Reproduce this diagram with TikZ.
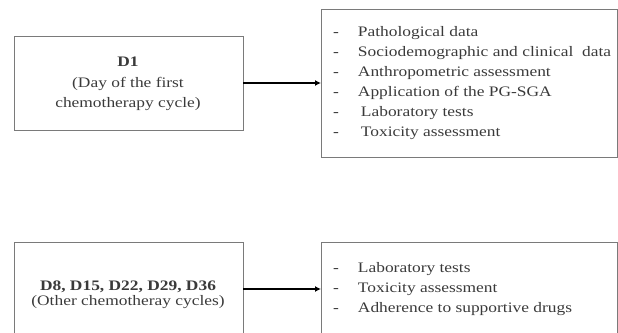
\documentclass[tikz,border=0pt]{standalone}
\usepackage{fontspec}
\setmainfont[FakeStretch=1.2]{Liberation Serif}
\usetikzlibrary{arrows.meta}
\definecolor{txt}{HTML}{3A3A3A}
\definecolor{bord}{HTML}{7A7A7A}
\tikzset{
  box/.style={draw=bord, line width=1pt, minimum width=#1, inner sep=0pt, outer sep=0pt},
  lbl/.style={text=txt, font=\fontsize{14.5}{20.5}\selectfont, align=center, inner sep=0pt},
  lst/.style={text=txt, font=\fontsize{14.5}{20}\selectfont, anchor=north west, inner sep=0pt},
  conn/.style={-{Latex[length=6pt,width=6pt]}, line width=1.8pt, black}
}
\begin{document}
\begin{tikzpicture}[x=1pt,y=-1pt]
\useasboundingbox (0,0) rectangle (618,332);
\begin{scope}
\clip (0,0) rectangle (618,332);
% top row
\node[box=229pt, minimum height=94pt, anchor=north west] (b1) at (14,36) {};
\node[lbl] (t1) at (128,84) {\textbf{D1}\\(Day of the first\\chemotherapy cycle)};
\node[box=296pt, minimum height=148pt, anchor=north west] (b2) at (321,9) {};
\node[lst] (l2) at (333,22) {\begin{tabular}{@{}l@{\hspace{19pt}}l@{}}
-& Pathological data\\
-& Sociodemographic and clinical~ data\\
-& Anthropometric assessment\\
-& Application of the PG-SGA\\
-& \hspace{3pt}Laboratory tests\\
-& \hspace{3pt}Toxicity assessment
\end{tabular}};
\draw[conn] (b1.east) -- (b2.west);
% bottom row
\node[box=229pt, minimum height=100pt, anchor=north west] (b3) at (14,242) {};
\node[lbl, font=\fontsize{14.5}{15}\selectfont] (t3) at (128,295) {\textbf{D8, D15, D22, D29, D36}\\(Other chemotheray cycles)};
\node[box=296pt, minimum height=100pt, anchor=north west] (b4) at (321,242) {};
\node[lst] (l4) at (333,258) {\begin{tabular}{@{}l@{\hspace{19pt}}l@{}}
-& Laboratory tests\\
-& Toxicity assessment\\
-& Adherence to supportive drugs
\end{tabular}};
\coordinate (a3) at (243,289);
\coordinate (a4) at (321,289);
\draw[conn] (a3) -- (a4);
\end{scope}
\end{tikzpicture}
\end{document}
